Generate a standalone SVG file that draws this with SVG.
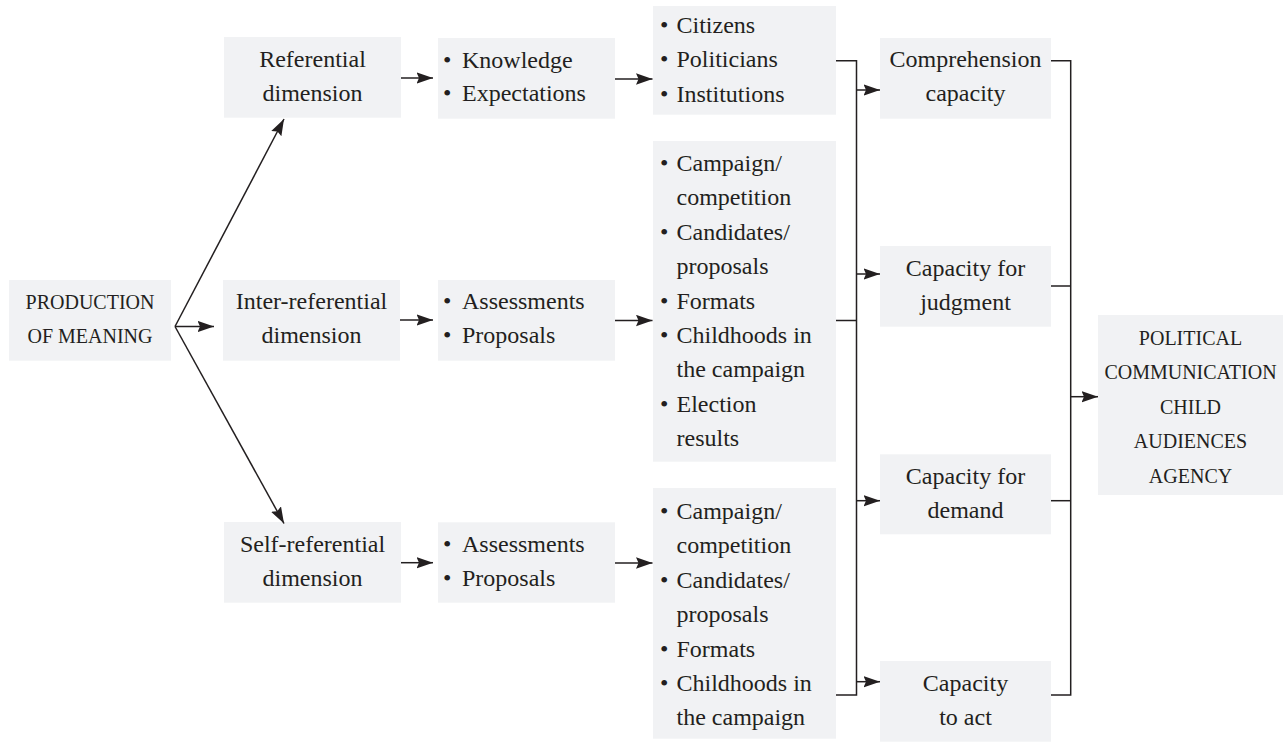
<svg xmlns="http://www.w3.org/2000/svg" width="1283" height="742" viewBox="0 0 1283 742">
<style>
.box{fill:#f1f2f4;}
.t{font-family:"Liberation Serif","Times New Roman",serif;font-size:24px;fill:#231f20;}
.c{text-anchor:middle;}
.caps{font-size:20px;}
.ln{fill:none;stroke:#231f20;stroke-width:1.5;}
.ar{fill:none;stroke:#231f20;stroke-width:1.5;marker-end:url(#ah);}
</style>
<defs>
<marker id="ah" markerUnits="userSpaceOnUse" markerWidth="17" markerHeight="12" refX="16.5" refY="6" orient="auto">
<path d="M0,0.3 L16.5,6 L0,11.7 L2.5,6 z" fill="#231f20"/>
</marker>
</defs>
<rect x="0" y="0" width="1283" height="742" fill="#ffffff"/>

<g id="production">
<rect class="box" x="9" y="280" width="162" height="80.7"/>
<text class="t c caps" x="90" y="309">PRODUCTION</text>
<text class="t c caps" x="90" y="343">OF MEANING</text>
</g>

<g id="referential">
<rect class="box" x="224" y="37" width="177" height="80.7"/>
<text class="t c" x="312.5" y="67">Referential</text>
<text class="t c" x="312.5" y="101">dimension</text>
</g>
<g id="inter-referential">
<rect class="box" x="223" y="280" width="177" height="80.7"/>
<text class="t c" x="311.5" y="309">Inter-referential</text>
<text class="t c" x="311.5" y="343">dimension</text>
</g>
<g id="self-referential">
<rect class="box" x="224" y="522" width="177" height="80.7"/>
<text class="t c" x="312.5" y="552">Self-referential</text>
<text class="t c" x="312.5" y="586">dimension</text>
</g>

<g id="knowledge">
<rect class="box" x="438" y="38" width="177" height="80.7"/>
<text class="t" y="67.5"><tspan x="443">•</tspan><tspan x="462">Knowledge</tspan></text>
<text class="t" y="101"><tspan x="443">•</tspan><tspan x="462">Expectations</tspan></text>
</g>
<g id="assessments-mid">
<rect class="box" x="438" y="280" width="177" height="80.7"/>
<text class="t" y="309"><tspan x="443">•</tspan><tspan x="462">Assessments</tspan></text>
<text class="t" y="343"><tspan x="443">•</tspan><tspan x="462">Proposals</tspan></text>
</g>
<g id="assessments-bottom">
<rect class="box" x="438" y="522.3" width="177" height="80.4"/>
<text class="t" y="552"><tspan x="443">•</tspan><tspan x="462">Assessments</tspan></text>
<text class="t" y="586"><tspan x="443">•</tspan><tspan x="462">Proposals</tspan></text>
</g>

<g id="actors">
<rect class="box" x="653" y="6" width="183" height="108.7"/>
<text class="t" y="33"><tspan x="660">•</tspan><tspan x="676.5">Citizens</tspan></text>
<text class="t" y="67.3"><tspan x="660">•</tspan><tspan x="676.5">Politicians</tspan></text>
<text class="t" y="101.6"><tspan x="660">•</tspan><tspan x="676.5">Institutions</tspan></text>
</g>
<g id="topics-mid">
<rect class="box" x="653" y="141" width="183" height="320.7"/>
<text class="t" y="171"><tspan x="660">•</tspan><tspan x="676.5">Campaign/</tspan></text>
<text class="t" x="676.5" y="205.4">competition</text>
<text class="t" y="239.8"><tspan x="660">•</tspan><tspan x="676.5">Candidates/</tspan></text>
<text class="t" x="676.5" y="274.2">proposals</text>
<text class="t" y="308.6"><tspan x="660">•</tspan><tspan x="676.5">Formats</tspan></text>
<text class="t" y="343"><tspan x="660">•</tspan><tspan x="676.5">Childhoods in</tspan></text>
<text class="t" x="676.5" y="377.4">the campaign</text>
<text class="t" y="411.8"><tspan x="660">•</tspan><tspan x="676.5">Election</tspan></text>
<text class="t" x="676.5" y="446.2">results</text>
</g>
<g id="topics-bottom">
<rect class="box" x="653" y="488" width="183" height="250.7"/>
<text class="t" y="519"><tspan x="660">•</tspan><tspan x="676.5">Campaign/</tspan></text>
<text class="t" x="676.5" y="553.4">competition</text>
<text class="t" y="587.8"><tspan x="660">•</tspan><tspan x="676.5">Candidates/</tspan></text>
<text class="t" x="676.5" y="622.2">proposals</text>
<text class="t" y="656.6"><tspan x="660">•</tspan><tspan x="676.5">Formats</tspan></text>
<text class="t" y="691"><tspan x="660">•</tspan><tspan x="676.5">Childhoods in</tspan></text>
<text class="t" x="676.5" y="725.4">the campaign</text>
</g>

<g id="comprehension">
<rect class="box" x="880" y="38" width="171" height="80.7"/>
<text class="t c" x="965.5" y="67">Comprehension</text>
<text class="t c" x="965.5" y="101">capacity</text>
</g>
<g id="judgment">
<rect class="box" x="880" y="246" width="171" height="80.7"/>
<text class="t c" x="965.5" y="276">Capacity for</text>
<text class="t c" x="965.5" y="310">judgment</text>
</g>
<g id="demand">
<rect class="box" x="880" y="454.3" width="171" height="80"/>
<text class="t c" x="965.5" y="483.5">Capacity for</text>
<text class="t c" x="965.5" y="517.5">demand</text>
</g>
<g id="act">
<rect class="box" x="880" y="661" width="171" height="80.7"/>
<text class="t c" x="965.5" y="691">Capacity</text>
<text class="t c" x="965.5" y="725">to act</text>
</g>

<g id="agency">
<rect class="box" x="1098" y="315" width="185" height="180"/>
<text class="t c caps" x="1190.5" y="345">POLITICAL</text>
<text class="t c caps" x="1190.5" y="379.4">COMMUNICATION</text>
<text class="t c caps" x="1190.5" y="413.8">CHILD</text>
<text class="t c caps" x="1190.5" y="448.2">AUDIENCES</text>
<text class="t c caps" x="1190.5" y="482.6">AGENCY</text>
</g>

<g id="connectors">
<path class="ar" d="M175,326.5 L284,119"/>
<path class="ar" d="M175,326.5 L214,326.5"/>
<path class="ar" d="M175,326.5 L284,523.5"/>
<path class="ar" d="M401,78 H433"/>
<path class="ar" d="M400,320 H433"/>
<path class="ar" d="M401,562.7 H433"/>
<path class="ar" d="M615,79 H652.5"/>
<path class="ar" d="M615,320.5 H652.5"/>
<path class="ar" d="M615,563 H652.5"/>
<path class="ln" d="M836,60.7 H856.5 V695 H836"/>
<path class="ln" d="M836,320.5 H856.5"/>
<path class="ar" d="M856.5,90 H880"/>
<path class="ar" d="M856.5,274 H880"/>
<path class="ar" d="M856.5,500.7 H880"/>
<path class="ar" d="M856.5,681.7 H880"/>
<path class="ln" d="M1051,60.7 H1070.7 V695 H1051"/>
<path class="ln" d="M1051,286 H1070.7"/>
<path class="ln" d="M1051,500.7 H1070.7"/>
<path class="ar" d="M1070.7,396.7 H1098"/>
</g>
</svg>
